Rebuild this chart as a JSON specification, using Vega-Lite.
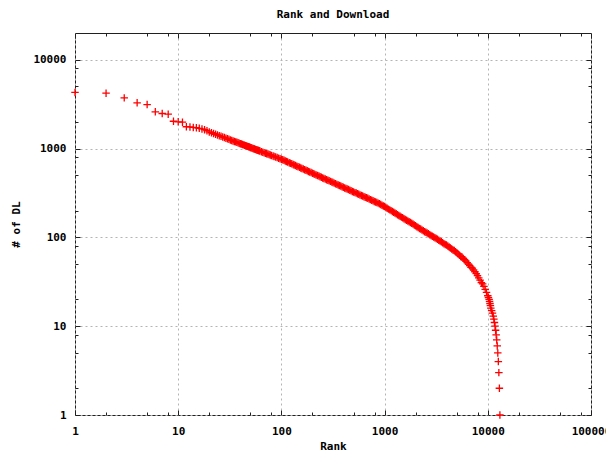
{
  "$schema": "https://vega.github.io/schema/vega-lite/v6.json",
  "autosize": "none",
  "padding": {"left": 75, "top": 33, "right": 15, "bottom": 37},
  "width": 516,
  "height": 382,
  "background": "white",
  "title": {"text": "Rank and Download", "font": "DejaVu Sans Mono", "fontSize": 11, "fontWeight": "bold", "color": "#000000", "offset": 13},
  "config": {
    "view": {"stroke": "#202020", "strokeWidth": 1},
    "axis": {
      "labelFont": "DejaVu Sans Mono", "labelFontSize": 11, "labelFontWeight": "bold", "labelColor": "#000000",
      "titleFont": "DejaVu Sans Mono", "titleFontSize": 11, "titleFontWeight": "bold", "titleColor": "#000000",
      "domain": false, "tickColor": "#202020", "gridColor": "#b4b4b4", "gridDash": [2, 3], "gridWidth": 1,
      "labelOverlap": false, "labelFlush": false
    }
  },
  "data": {"values": [
    {"rank": 1, "dl": 4280}, {"rank": 2, "dl": 4200}, {"rank": 3, "dl": 3720}, {"rank": 4, "dl": 3270}, {"rank": 5, "dl": 3130},
    {"rank": 6, "dl": 2590}, {"rank": 7, "dl": 2480}, {"rank": 8, "dl": 2440}, {"rank": 9, "dl": 2030}, {"rank": 10, "dl": 2000},
    {"rank": 11, "dl": 1980}, {"rank": 12, "dl": 1760}, {"rank": 13, "dl": 1750}, {"rank": 14, "dl": 1730}, {"rank": 15, "dl": 1715},
    {"rank": 16, "dl": 1690}, {"rank": 17, "dl": 1665}, {"rank": 18, "dl": 1630}, {"rank": 19, "dl": 1590}, {"rank": 20, "dl": 1540},
    {"rank": 21, "dl": 1507}, {"rank": 22, "dl": 1477}, {"rank": 23, "dl": 1448}, {"rank": 24, "dl": 1421}, {"rank": 25, "dl": 1396},
    {"rank": 26, "dl": 1372}, {"rank": 27, "dl": 1349}, {"rank": 28, "dl": 1328}, {"rank": 29, "dl": 1308}, {"rank": 30, "dl": 1288},
    {"rank": 31, "dl": 1270}, {"rank": 32, "dl": 1252}, {"rank": 33, "dl": 1235}, {"rank": 34, "dl": 1219}, {"rank": 35, "dl": 1204},
    {"rank": 36, "dl": 1189}, {"rank": 37, "dl": 1175}, {"rank": 38, "dl": 1161}, {"rank": 39, "dl": 1148}, {"rank": 40, "dl": 1135},
    {"rank": 41, "dl": 1123}, {"rank": 42, "dl": 1111}, {"rank": 43, "dl": 1100}, {"rank": 44, "dl": 1089}, {"rank": 45, "dl": 1078},
    {"rank": 46, "dl": 1068}, {"rank": 47, "dl": 1058}, {"rank": 48, "dl": 1048}, {"rank": 49, "dl": 1038}, {"rank": 50, "dl": 1029},
    {"rank": 51, "dl": 1020}, {"rank": 52, "dl": 1011}, {"rank": 53, "dl": 1003}, {"rank": 54, "dl": 995}, {"rank": 55, "dl": 987},
    {"rank": 56, "dl": 979}, {"rank": 57, "dl": 971}, {"rank": 58, "dl": 964}, {"rank": 59, "dl": 957}, {"rank": 60, "dl": 950},
    {"rank": 61, "dl": 943}, {"rank": 62, "dl": 936}, {"rank": 64, "dl": 923}, {"rank": 66, "dl": 911}, {"rank": 68, "dl": 899},
    {"rank": 70, "dl": 887}, {"rank": 72, "dl": 876}, {"rank": 74, "dl": 866}, {"rank": 76, "dl": 856}, {"rank": 78, "dl": 846},
    {"rank": 80, "dl": 835}, {"rank": 83, "dl": 823}, {"rank": 85, "dl": 815}, {"rank": 88, "dl": 802}, {"rank": 91, "dl": 791},
    {"rank": 94, "dl": 780}, {"rank": 97, "dl": 770}, {"rank": 100, "dl": 760}, {"rank": 103, "dl": 749}, {"rank": 106, "dl": 737},
    {"rank": 109, "dl": 726}, {"rank": 112, "dl": 715}, {"rank": 115, "dl": 704}, {"rank": 119, "dl": 694}, {"rank": 122, "dl": 684},
    {"rank": 126, "dl": 673}, {"rank": 130, "dl": 663}, {"rank": 133, "dl": 653}, {"rank": 137, "dl": 643}, {"rank": 141, "dl": 633},
    {"rank": 145, "dl": 623}, {"rank": 150, "dl": 614}, {"rank": 154, "dl": 605}, {"rank": 158, "dl": 596}, {"rank": 163, "dl": 587},
    {"rank": 168, "dl": 578}, {"rank": 173, "dl": 569}, {"rank": 178, "dl": 561}, {"rank": 183, "dl": 553}, {"rank": 188, "dl": 544},
    {"rank": 194, "dl": 536}, {"rank": 200, "dl": 528}, {"rank": 206, "dl": 520}, {"rank": 211, "dl": 512}, {"rank": 217, "dl": 504},
    {"rank": 224, "dl": 497}, {"rank": 231, "dl": 490}, {"rank": 237, "dl": 482}, {"rank": 244, "dl": 475}, {"rank": 251, "dl": 467},
    {"rank": 258, "dl": 460}, {"rank": 266, "dl": 453}, {"rank": 274, "dl": 446}, {"rank": 282, "dl": 440}, {"rank": 290, "dl": 433},
    {"rank": 299, "dl": 427}, {"rank": 308, "dl": 421}, {"rank": 316, "dl": 414}, {"rank": 325, "dl": 408}, {"rank": 335, "dl": 401},
    {"rank": 345, "dl": 395}, {"rank": 355, "dl": 389}, {"rank": 365, "dl": 383}, {"rank": 376, "dl": 378}, {"rank": 387, "dl": 372},
    {"rank": 398, "dl": 366}, {"rank": 410, "dl": 360}, {"rank": 422, "dl": 355}, {"rank": 434, "dl": 350}, {"rank": 447, "dl": 345},
    {"rank": 460, "dl": 340}, {"rank": 473, "dl": 334}, {"rank": 487, "dl": 329}, {"rank": 501, "dl": 324}, {"rank": 516, "dl": 319},
    {"rank": 531, "dl": 315}, {"rank": 547, "dl": 310}, {"rank": 562, "dl": 305}, {"rank": 578, "dl": 300}, {"rank": 596, "dl": 296},
    {"rank": 613, "dl": 292}, {"rank": 631, "dl": 287}, {"rank": 649, "dl": 283}, {"rank": 668, "dl": 279}, {"rank": 687, "dl": 275},
    {"rank": 708, "dl": 270}, {"rank": 729, "dl": 266}, {"rank": 750, "dl": 262}, {"rank": 772, "dl": 258}, {"rank": 794, "dl": 254},
    {"rank": 817, "dl": 250}, {"rank": 841, "dl": 247}, {"rank": 866, "dl": 243}, {"rank": 891, "dl": 239}, {"rank": 917, "dl": 234},
    {"rank": 944, "dl": 230}, {"rank": 972, "dl": 226}, {"rank": 1000, "dl": 222}, {"rank": 1029, "dl": 217}, {"rank": 1059, "dl": 213},
    {"rank": 1090, "dl": 208}, {"rank": 1122, "dl": 204}, {"rank": 1155, "dl": 200}, {"rank": 1189, "dl": 196}, {"rank": 1224, "dl": 192},
    {"rank": 1259, "dl": 188}, {"rank": 1296, "dl": 184}, {"rank": 1334, "dl": 180}, {"rank": 1373, "dl": 176}, {"rank": 1413, "dl": 173},
    {"rank": 1454, "dl": 169}, {"rank": 1496, "dl": 166}, {"rank": 1540, "dl": 162}, {"rank": 1585, "dl": 159}, {"rank": 1631, "dl": 156},
    {"rank": 1679, "dl": 153}, {"rank": 1728, "dl": 150}, {"rank": 1778, "dl": 147}, {"rank": 1830, "dl": 144}, {"rank": 1884, "dl": 141},
    {"rank": 1939, "dl": 138}, {"rank": 1995, "dl": 135}, {"rank": 2053, "dl": 132}, {"rank": 2113, "dl": 129}, {"rank": 2175, "dl": 126},
    {"rank": 2239, "dl": 124}, {"rank": 2304, "dl": 121}, {"rank": 2371, "dl": 119}, {"rank": 2440, "dl": 116}, {"rank": 2512, "dl": 114},
    {"rank": 2585, "dl": 112}, {"rank": 2661, "dl": 110}, {"rank": 2739, "dl": 107}, {"rank": 2818, "dl": 105}, {"rank": 2900, "dl": 103},
    {"rank": 2985, "dl": 101}, {"rank": 3072, "dl": 99}, {"rank": 3162, "dl": 97}, {"rank": 3254, "dl": 95}, {"rank": 3350, "dl": 93},
    {"rank": 3448, "dl": 91}, {"rank": 3548, "dl": 89}, {"rank": 3652, "dl": 87}, {"rank": 3758, "dl": 85}, {"rank": 3868, "dl": 83},
    {"rank": 3981, "dl": 82}, {"rank": 4097, "dl": 80}, {"rank": 4217, "dl": 78}, {"rank": 4340, "dl": 76}, {"rank": 4467, "dl": 74},
    {"rank": 4597, "dl": 72}, {"rank": 4732, "dl": 71}, {"rank": 4870, "dl": 69}, {"rank": 5012, "dl": 67}, {"rank": 5158, "dl": 65},
    {"rank": 5309, "dl": 63}, {"rank": 5464, "dl": 61}, {"rank": 5623, "dl": 60}, {"rank": 5788, "dl": 58}, {"rank": 5957, "dl": 56},
    {"rank": 6131, "dl": 54}, {"rank": 6310, "dl": 52}, {"rank": 6494, "dl": 50}, {"rank": 6683, "dl": 48}, {"rank": 6878, "dl": 46},
    {"rank": 7079, "dl": 45}, {"rank": 7286, "dl": 43}, {"rank": 7499, "dl": 41}, {"rank": 7718, "dl": 39}, {"rank": 7943, "dl": 37},
    {"rank": 8175, "dl": 35}, {"rank": 8414, "dl": 33}, {"rank": 8660, "dl": 31}, {"rank": 8913, "dl": 30}, {"rank": 9173, "dl": 28},
    {"rank": 9441, "dl": 26}, {"rank": 9716, "dl": 24}, {"rank": 10000, "dl": 22}, {"rank": 10150, "dl": 21}, {"rank": 10300, "dl": 20},
    {"rank": 10400, "dl": 19}, {"rank": 10500, "dl": 18}, {"rank": 10600, "dl": 17}, {"rank": 10700, "dl": 16},
    {"rank": 10900, "dl": 15}, {"rank": 11100, "dl": 14}, {"rank": 11300, "dl": 13}, {"rank": 11450, "dl": 12}, {"rank": 11600, "dl": 11},
    {"rank": 11750, "dl": 10}, {"rank": 11900, "dl": 9}, {"rank": 12050, "dl": 8}, {"rank": 12200, "dl": 7}, {"rank": 12350, "dl": 6},
    {"rank": 12500, "dl": 5}, {"rank": 12650, "dl": 4}, {"rank": 12800, "dl": 3}, {"rank": 12950, "dl": 2}, {"rank": 13100, "dl": 1}
  ]},
  "layer": [
    {
      "mark": {"type": "point", "shape": "M-1,0H1M0,-1V1", "filled": false, "stroke": "#ff0000", "strokeWidth": 1.3, "size": 56, "opacity": 1, "clip": false},
      "encoding": {
        "x": {"field": "rank", "type": "quantitative", "title": "Rank",
          "scale": {"type": "log", "domain": [1, 100000], "nice": false},
          "axis": {"orient": "bottom", "values": [1, 2, 5, 8, 10, 20, 50, 80, 100, 200, 500, 800, 1000, 2000, 5000, 8000, 10000, 20000, 50000, 80000, 100000],
            "labelExpr": "indexof([1,10,100,1000,10000,100000], datum.value) >= 0 ? '' + datum.value : ''",
            "tickSize": {"condition": {"test": "indexof([1,10,100,1000,10000,100000], datum.value) >= 0", "value": -5}, "value": -3},
            "gridOpacity": {"condition": {"test": "indexof([1,10,100,1000,10000,100000], datum.value) >= 0", "value": 1}, "value": 0},
            "labelPadding": 15, "titlePadding": 2}},
        "y": {"field": "dl", "type": "quantitative", "title": "# of DL",
          "scale": {"type": "log", "domain": [1, 20000], "nice": false},
          "axis": {"orient": "left", "values": [1, 2, 5, 8, 10, 20, 50, 80, 100, 200, 500, 800, 1000, 2000, 5000, 8000, 10000],
            "labelExpr": "indexof([1,10,100,1000,10000,100000], datum.value) >= 0 ? '' + datum.value : ''",
            "tickSize": {"condition": {"test": "indexof([1,10,100,1000,10000,100000], datum.value) >= 0", "value": -5}, "value": -3},
            "gridOpacity": {"condition": {"test": "indexof([1,10,100,1000,10000,100000], datum.value) >= 0", "value": 1}, "value": 0},
            "labelPadding": 14, "titlePadding": 11}}
      }
    },
    {
      "mark": {"type": "point", "opacity": 0},
      "encoding": {
        "x": {"field": "rank", "type": "quantitative",
          "axis": {"orient": "top", "title": null, "labels": false, "grid": false, "values": [1, 2, 5, 8, 10, 20, 50, 80, 100, 200, 500, 800, 1000, 2000, 5000, 8000, 10000, 20000, 50000, 80000, 100000],
            "tickSize": {"condition": {"test": "indexof([1,10,100,1000,10000,100000], datum.value) >= 0", "value": -5}, "value": -3}}},
        "y": {"field": "dl", "type": "quantitative",
          "axis": {"orient": "right", "title": null, "labels": false, "grid": false, "values": [1, 2, 5, 8, 10, 20, 50, 80, 100, 200, 500, 800, 1000, 2000, 5000, 8000, 10000],
            "tickSize": {"condition": {"test": "indexof([1,10,100,1000,10000,100000], datum.value) >= 0", "value": -5}, "value": -3}}}
      }
    }
  ],
  "resolve": {"axis": {"x": "independent", "y": "independent"}}
}
